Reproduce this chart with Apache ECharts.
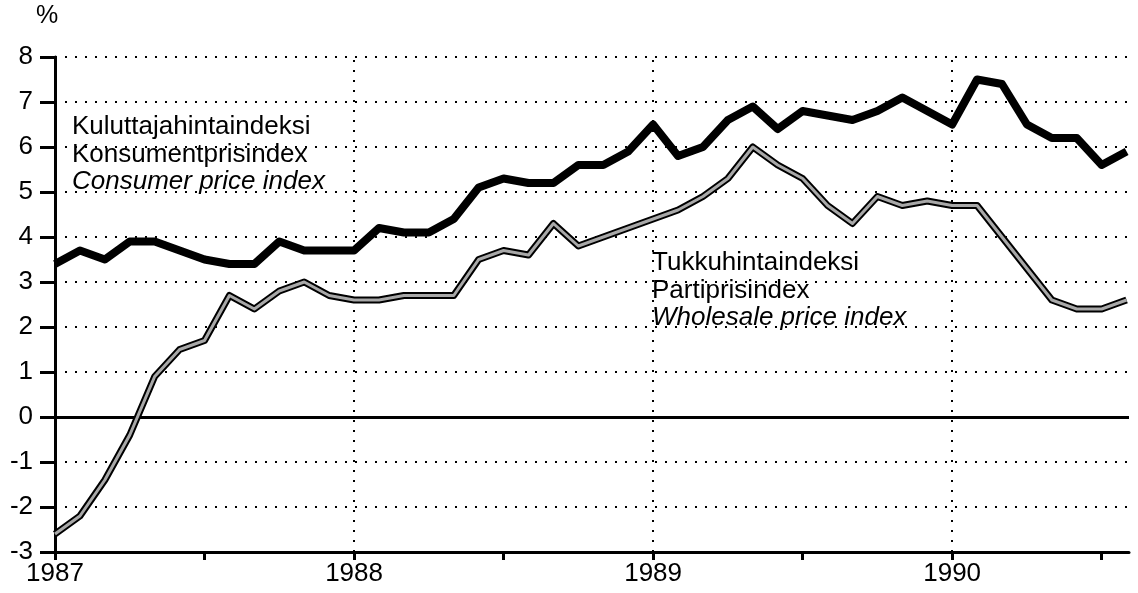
<!DOCTYPE html>
<html>
<head>
<meta charset="utf-8">
<script src="https://cdn.jsdelivr.net/npm/echarts@6/dist/echarts.min.js"></script>
<style>
html,body{margin:0;padding:0;background:#fff;}
#chart{width:1138px;height:593px;}
</style>
</head>
<body>
<div id="chart"></div>
<script>
// Monthly data, January 1987 .. August 1990
const startYear = 1987;
const cpi = [3.4, 3.7, 3.5, 3.9, 3.9, 3.7, 3.5, 3.4, 3.4, 3.9, 3.7, 3.7,
             3.7, 4.2, 4.1, 4.1, 4.4, 5.1, 5.3, 5.2, 5.2, 5.6, 5.6, 5.9,
             6.5, 5.8, 6.0, 6.6, 6.9, 6.4, 6.8, 6.7, 6.6, 6.8, 7.1, 6.8,
             6.5, 7.5, 7.4, 6.5, 6.2, 6.2, 5.6, 5.9];
const wpi = [-2.6, -2.2, -1.4, -0.4, 0.9, 1.5, 1.7, 2.7, 2.4, 2.8, 3.0, 2.7,
             2.6, 2.6, 2.7, 2.7, 2.7, 3.5, 3.7, 3.6, 4.3, 3.8, 4.0, 4.2,
             4.4, 4.6, 4.9, 5.3, 6.0, 5.6, 5.3, 4.7, 4.3, 4.9, 4.7, 4.8,
             4.7, 4.7, 4.0, 3.3, 2.6, 2.4, 2.4, 2.6];
const yearTicks = [1987, 1988, 1989, 1990];
const halfYearTicks = [1987, 1987.5, 1988, 1988.5, 1989, 1989.5, 1990, 1990.5];
const yearGrid = [1988, 1989, 1990];
const cpiLabel = ['Kuluttajahintaindeksi', 'Konsumentprisindex', 'Consumer price index'];
const wpiLabel = ['Tukkuhintaindeksi', 'Partiprisindex', 'Wholesale price index'];

const toXY = arr => arr.map((v, i) => [startYear + i / 12, v]);
const FONT = '"Liberation Sans", Arial, Helvetica, sans-serif';

const chart = echarts.init(document.getElementById('chart'), null, {renderer: 'canvas'});
const xMax = startYear + (cpi.length - 1) / 12 + 0.008;

function labelBlock(lines, left, top) {
  return lines.map((t, i) => ({
    type: 'text', left: left, top: top + i * 27.5,
    style: {text: t, fontSize: 26, fontFamily: FONT, fontStyle: i === 2 ? 'italic' : 'normal', fill: '#000'}
  }));
}

chart.setOption({
  backgroundColor: '#fff',
  animation: false,
  grid: {left: 55, right: 9, top: 57, bottom: 41, containLabel: false},
  xAxis: {
    type: 'value', min: startYear, max: xMax, interval: 0.5,
    axisLine: {show: true, onZero: false, lineStyle: {color: '#000', width: 3}},
    axisTick: {show: true, length: 8, lineStyle: {color: '#000', width: 3}, customValues: halfYearTicks},
    axisLabel: {
      customValues: yearTicks,
      color: '#000', fontSize: 26, fontFamily: FONT, margin: 9,
      formatter: v => (Math.abs(v - Math.round(v)) < 1e-6 ? String(Math.round(v)) : '')
    },
    splitLine: {show: false}
  },
  yAxis: {
    type: 'value', min: -3, max: 8, interval: 1,
    axisLine: {show: true, lineStyle: {color: '#000', width: 3}},
    axisTick: {show: true, inside: false, length: 15, lineStyle: {color: '#000', width: 3}},
    axisLabel: {color: '#000', fontSize: 26, fontFamily: FONT, margin: 22},
    splitLine: {show: true, lineStyle: {color: '#000', width: 2, type: [2, 8]}}
  },
  graphic: [
    {type: 'text', left: 36, top: 4, style: {text: '%', fontSize: 25, fontFamily: FONT, fill: '#000'}}
  ].concat(labelBlock(cpiLabel, 72, 114)).concat(labelBlock(wpiLabel, 652, 250)),
  series: [
    {
      type: 'line', name: 'grid', data: [], silent: true,
      markLine: {
        silent: true, symbol: 'none', label: {show: false},
        lineStyle: {color: '#000', width: 2, type: [2, 8]},
        data: yearGrid.map(y => ({xAxis: y}))
      }
    },
    {
      type: 'line', name: 'zero', data: [], silent: true,
      markLine: {
        silent: true, symbol: 'none', label: {show: false},
        lineStyle: {color: '#000', width: 3, type: 'solid'},
        data: [{yAxis: 0}]
      }
    },
    {
      type: 'line', name: 'Consumer price index', data: toXY(cpi),
      showSymbol: false, lineStyle: {color: '#000', width: 8, join: 'round'}, z: 5
    },
    {
      type: 'line', name: 'Wholesale price index (outline)', data: toXY(wpi),
      showSymbol: false, lineStyle: {color: '#000', width: 7, join: 'round'}, z: 6
    },
    {
      type: 'line', name: 'Wholesale price index', data: toXY(wpi),
      showSymbol: false, lineStyle: {color: '#a8a8a8', width: 3, join: 'round'}, z: 7
    }
  ]
});
</script>
</body>
</html>
